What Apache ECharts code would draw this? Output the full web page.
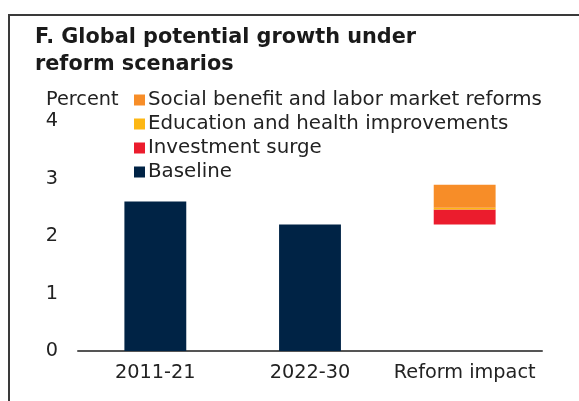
<!DOCTYPE html>
<html>
<head>
<meta charset="utf-8">
<script src="https://cdn.jsdelivr.net/npm/echarts@6/dist/echarts.min.js"></script>
<style>
html,body{margin:0;padding:0;background:#fff;}
#frame{position:absolute;left:8px;top:14px;width:571px;height:387px;border-top:2px solid #3a3a3a;border-left:2px solid #3a3a3a;}
#chart{position:absolute;left:0;top:0;width:579px;height:401px;}
</style>
</head>
<body>
<div id="frame"></div>
<div id="chart"></div>
<script>
var categories = ['2011-21', '2022-30', 'Reform impact'];
var baseline = [2.6, 2.2, '-'];
var reformBase = ['-', '-', 2.2];
var investmentSurge = ['-', '-', 0.26];
var educationHealth = ['-', '-', 0.03];
var socialLabor = ['-', '-', 0.40];
var yTicks = [0, 1, 2, 3, 4];

var FONT = 'DejaVu Sans';
var chart = echarts.init(document.getElementById('chart'), null, {renderer: 'canvas'});
chart.setOption({
  animation: false,
  title: [{
    text: 'F. Global potential growth under\nreform scenarios',
    left: 30, top: 19,
    textStyle: {fontFamily: FONT, fontWeight: 'bold', fontSize: 20.8, lineHeight: 27, color: '#1a1a1a'}
  }, {
    text: 'Percent',
    left: 41, top: 85,
    textStyle: {fontFamily: FONT, fontWeight: 'normal', fontSize: 19.3, lineHeight: 20, color: '#222'}
  }],
  legend: {
    orient: 'vertical',
    left: 129, top: 85,
    itemWidth: 11, itemHeight: 11, itemGap: 4,
    icon: 'rect',
    data: ['Social benefit and labor market reforms', 'Education and health improvements', 'Investment surge', 'Baseline'],
    textStyle: {fontFamily: FONT, fontSize: 19.8, lineHeight: 20, color: '#222', padding: [0,0,0,-2]}
  },
  grid: {left: 78, right: 37, top: 121, bottom: 50, containLabel: false},
  xAxis: {
    type: 'category',
    data: categories,
    axisLine: {lineStyle: {color: '#555', width: 2}},
    axisTick: {show: false},
    axisLabel: {fontFamily: FONT, fontSize: 19.3, color: '#222', margin: 12, interval: 0}
  },
  yAxis: {
    type: 'value',
    min: yTicks[0], max: yTicks[yTicks.length - 1], interval: 1,
    splitLine: {show: false},
    axisLine: {show: false},
    axisTick: {show: false},
    axisLabel: {fontFamily: FONT, fontSize: 19.3, color: '#222', margin: 20}
  },
  series: [{
    name: 'Baseline', type: 'bar', stack: 'total', barWidth: '40%',
    data: baseline, itemStyle: {color: '#002345'}
  }, {
    name: 'base', type: 'bar', stack: 'total', barWidth: '40%',
    data: reformBase, itemStyle: {color: 'rgba(0,0,0,0)'}, silent: true
  }, {
    name: 'Investment surge', type: 'bar', stack: 'total', barWidth: '40%',
    data: investmentSurge, itemStyle: {color: '#EB1C2D'}
  }, {
    name: 'Education and health improvements', type: 'bar', stack: 'total', barWidth: '40%',
    data: educationHealth, itemStyle: {color: '#FDB714'}
  }, {
    name: 'Social benefit and labor market reforms', type: 'bar', stack: 'total', barWidth: '40%',
    data: socialLabor, itemStyle: {color: '#F78D28'}
  }]
});
</script>
</body>
</html>
